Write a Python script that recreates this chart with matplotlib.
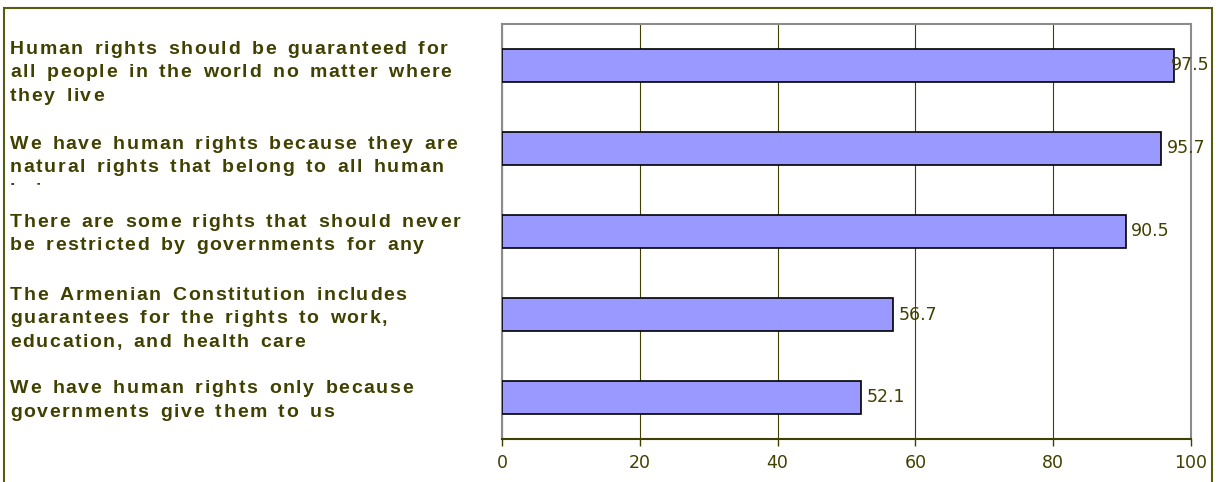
import matplotlib
matplotlib.use("Agg")
import matplotlib.pyplot as plt
from matplotlib.font_manager import FontProperties
from matplotlib.patches import Rectangle
from matplotlib.transforms import IdentityTransform, Bbox

# Survey statements (wrapped as they appear in the chart) and agreement shares (%)
statements = [
    ["Human rights should be guaranteed for",
     "all people in the world no matter where",
     "they live"],
    ["We have human rights because they are",
     "natural rights that belong to all human",
     "beings"],
    ["There are some rights that should never",
     "be restricted by governments for any",
     "reason"],
    ["The Armenian Constitution includes",
     "guarantees for the rights to work,",
     "education, and health care"],
    ["We have human rights only because",
     "governments give them to us"],
]
values = [97.5, 95.7, 90.5, 56.7, 52.1]
x_ticks = [0, 20, 40, 60, 80, 100]

W, H, DPI = 1220, 482, 100
OLIVE = "#404000"
BAR = "#9999FF"
NUM_FONT = "DejaVu Sans"

fig = plt.figure(figsize=(W / DPI, H / DPI), dpi=DPI)
fig.patch.set_facecolor("white")

# plot area in pixels (left, top, right, bottom measured from top-left)
pl, pt, pr, pb = 502, 24, 1191, 439
ax = fig.add_axes([pl / W, 1 - pb / H, (pr - pl) / W, (pb - pt) / H])

ypos = list(range(len(values)))
ax.barh(ypos, values, height=0.4, color=BAR, edgecolor="black", linewidth=1.2, zorder=3)
ax.set_xlim(0, 100)
ax.set_ylim(len(values) - 0.5, -0.5)
ax.set_yticks([])
ax.set_xticks(x_ticks)
ax.set_xticklabels([str(t) for t in x_ticks])
ax.tick_params(axis="x", direction="out", length=5, width=1, color=OLIVE,
               labelcolor=OLIVE, labelsize=12.5, pad=6)
for lbl in ax.get_xticklabels():
    lbl.set_fontfamily(NUM_FONT)
ax.grid(axis="x", color=OLIVE, linewidth=0.8, zorder=0)
for side in ("top", "left", "right"):
    ax.spines[side].set_color("#8c8c8c")
    ax.spines[side].set_linewidth(1.5)
ax.spines["bottom"].set_color(OLIVE)
ax.spines["bottom"].set_linewidth(1.5)

# outer chart frame
fig.patches.append(Rectangle((4, -20), 1212 - 4, (H - 8) + 20, transform=IdentityTransform(),
                             fill=False, edgecolor="#5a5a10", linewidth=1.5))

renderer = fig.canvas.get_renderer()
label_prop = FontProperties(family="Liberation Sans", weight="bold", size=14)


def text_width(s, prop):
    w, _, _ = renderer.get_text_width_height_descent(s, prop, ismath=False)
    return w


bar_w = text_width("||", label_prop)
char_w = {}


def advance(c):
    if c not in char_w:
        char_w[c] = text_width("|" + c + "|", label_prop) - bar_w
    return char_w[c]


def tracked_line(x, y_baseline_top, s, tracking, word_gap, clip=None):
    """Draw a line of bold text with extra letter and word spacing, baseline given from the top."""
    y = H - y_baseline_top
    for c in s:
        if c == " ":
            x += advance(c) + word_gap
            continue
        t = fig.text(x, y, c, transform=IdentityTransform(), fontproperties=label_prop,
                     color=OLIVE, ha="left", va="baseline")
        if clip is not None:
            t.set_clip_box(clip)
            t.set_clip_on(True)
        x += advance(c) + tracking


# statement labels: first baseline offset from bar centre (px), line spacing 23.3 px;
# each label box only shows a limited number of lines
first_offsets = [-11.5, 0.5, -4.8, -14.5, -4.2]
shown_lines = [3, 2.2, 2, 3, 2]
line_step = 23.3
bar_step = (pb - pt) / len(values)
for i, lines in enumerate(statements):
    centre = pt + (i + 0.5) * bar_step
    base = centre + first_offsets[i]
    clip_bottom = base + (shown_lines[i] - 1) * line_step + 8
    clip = Bbox.from_extents(0, H - clip_bottom, W, H)
    for j, line in enumerate(lines):
        tracked_line(10, base + j * line_step, line, 1.6, 4.5, clip=clip)

# value labels at the bar ends, kept inside the frame
for yv, v in zip(ypos, values):
    t = ax.annotate(f"{v:.1f}", xy=(v, yv), xytext=(4, 0), textcoords="offset points",
                    ha="left", va="center", color=OLIVE, fontsize=12.5,
                    fontfamily=NUM_FONT, zorder=4)
    bb = t.get_window_extent(renderer)
    if bb.x1 > 1210:
        t.set_position((-(bb.x1 - 1210) * 72 / DPI + 4, 0))

fig.savefig("out.png", dpi=DPI, facecolor="white")
